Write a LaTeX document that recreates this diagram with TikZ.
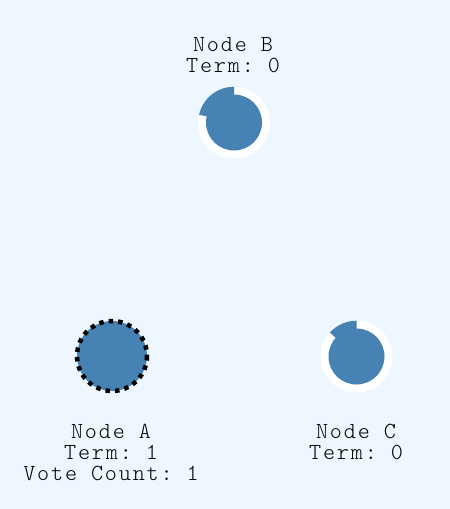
\documentclass[tikz,border=0pt]{standalone}
\usepackage{fontspec}
\setmonofont{Latin Modern Mono Light}[LetterSpace=8]
\definecolor{bgc}{HTML}{EEF7FF}
\definecolor{steel}{HTML}{4682B4}
\tikzset{
  lbl/.style={font=\ttfamily\fontsize{23}{21}\selectfont, align=center, anchor=base, inner sep=0pt, text=black},
  ringbg/.style={fill=white},
  core/.style={fill=steel},
}
\begin{document}
\begin{tikzpicture}[x=1pt,y=-1pt]
\fill[bgc] (0,0) rectangle (450,509);
\useasboundingbox (0,0) rectangle (450,509);
% Node B
\coordinate (B) at (234,122.5);
\fill[ringbg] (B) circle (36);
\fill[core] (B) circle (28);
\fill[core] (B) ++(0,-35.8) arc[start angle=-90, end angle=-167.5, radius=35.8] -- (B) -- cycle;
\node[lbl] (lB) at (233,72) {Node B\\Term: 0};
% Node C
\coordinate (C) at (356.5,356.5);
\fill[ringbg] (C) circle (36);
\fill[core] (C) circle (28);
\fill[core] (C) ++(0,-35.8) arc[start angle=-90, end angle=-138, radius=35.8] -- (C) -- cycle;
\node[lbl] (lC) at (356,459) {Node C\\Term: 0};
% Node A
\coordinate (A) at (112,356);
\fill[core] (A) circle (35);
\draw[black, line width=4.5pt, dash pattern=on 4.5pt off 5pt] (A) circle (35);
\node[lbl] (lA) at (111,480) {Node A\\Term: 1\\Vote Count: 1};
\end{tikzpicture}
\end{document}
